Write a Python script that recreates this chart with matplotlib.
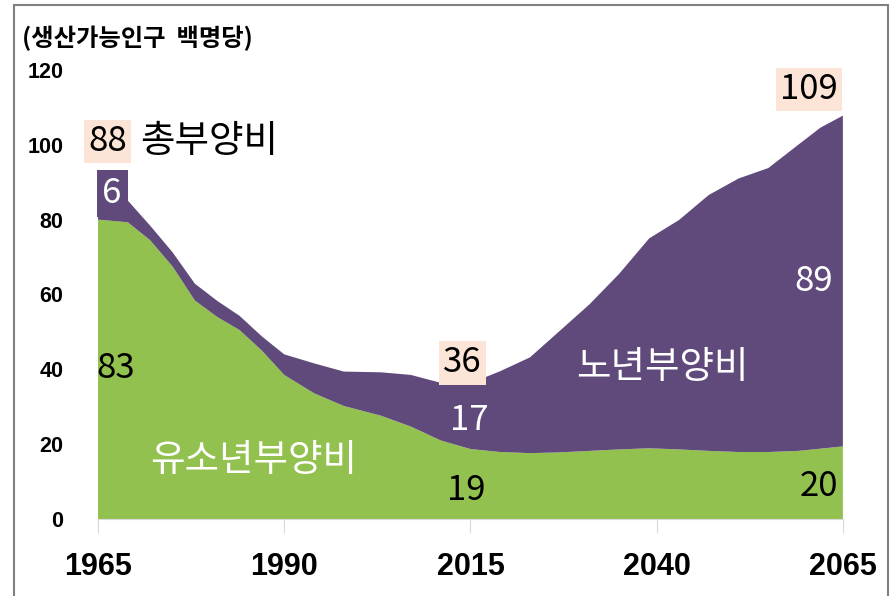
import matplotlib

matplotlib.use("Agg")
import matplotlib.pyplot as plt
from matplotlib.patches import Rectangle

years = [1965, 1969, 1972, 1975, 1978, 1981, 1984, 1987, 1990, 1994, 1998,
         2003, 2007, 2011, 2015, 2019, 2023, 2027, 2031, 2035, 2039, 2043,
         2047, 2051, 2055, 2059, 2062, 2065]
youth = [80.0, 79.3, 74.5, 67.5, 58.4, 54.0, 50.5, 45.0, 38.5, 33.6, 30.2,
         27.6, 24.7, 21.0, 18.7, 17.9, 17.6, 17.8, 18.2, 18.6, 18.9, 18.6,
         18.2, 17.9, 17.9, 18.2, 18.8, 19.4]
old = [8.0, 5.8, 3.9, 3.8, 4.5, 4.3, 3.8, 3.8, 5.5, 8.0, 9.2,
       11.6, 13.8, 15.4, 17.6, 21.6, 25.6, 32.5, 39.2, 47.0, 56.1, 61.3,
       68.4, 73.1, 75.9, 81.8, 85.8, 88.4]

xticks = [1965, 1990, 2015, 2040, 2065]
yticks = [0, 20, 40, 60, 80, 100, 120]

GREEN = "#92C150"
PURPLE = "#604A7B"
PEACH = "#FCE4D6"
KR = ["Noto Sans CJK KR", "DejaVu Sans"]
NUM = ["Liberation Sans", "DejaVu Sans"]

fig = plt.figure(figsize=(8.91, 5.96), dpi=100)
ax = fig.add_axes([0.110, 0.1292, 0.836, 0.7534])

ax.stackplot(years, youth, old, colors=[GREEN, PURPLE], linewidth=0)
ax.set_xlim(1965, 2065)
ax.set_ylim(0, 120)

for s in ("top", "right", "left"):
    ax.spines[s].set_visible(False)
ax.spines["bottom"].set_color("#d9d9d9")

ax.set_xticks(xticks)
ax.set_yticks(yticks)
ax.tick_params(axis="x", length=10, color="#d9d9d9", pad=14)
ax.tick_params(axis="y", length=0, pad=25)
for lab in ax.get_xticklabels():
    lab.set_family(NUM)
    lab.set_fontsize(22)
    lab.set_fontweight("bold")
for lab in ax.get_yticklabels():
    lab.set_family(NUM)
    lab.set_fontsize(15.5)
    lab.set_fontweight("bold")

# unit label
fig.text(22 / 891, 1 - 38 / 596, "(생산가능인구  백명당)", family=KR,
         fontsize=17.5, fontweight="bold", ha="left", va="center")

def box(x, y, txt, fc, color="black"):
    ax.text(x, y, txt, family=KR, fontsize=25, fontweight="medium", color=color,
            ha="center", va="center",
            bbox=dict(boxstyle="square,pad=0.12", fc=fc, ec="none"))

def label(x, y, txt, color="black", size=25):
    ax.text(x, y, txt, family=KR, fontsize=size, fontweight="medium", color=color,
            ha="center", va="center")

box(1966.3, 100.8, "88", PEACH)
box(2013.9, 41.7, "36", PEACH)
box(2060.4, 114.8, "109", PEACH)
ax.text(1966.9, 86.9, "6", family=KR, fontsize=25, fontweight="medium", color="white",
        ha="center", va="center",
        bbox=dict(boxstyle="square,pad=0.17", fc=PURPLE, ec="none"))

label(1979.9, 101, "총부양비", size=27)
label(1985.9, 15.7, "유소년부양비", color="white", size=27)
label(2040.8, 40.5, "노년부양비", color="white", size=27)

label(1967.4, 40.3, "83")
label(2014.8, 26.4, "17", color="white")
label(2014.5, 7.5, "19")
label(2061.1, 63.5, "89", color="white")
label(2061.8, 8.8, "20")

# outer frame
fig.patches.append(Rectangle((14 / 891, -0.02), (888 - 14) / 891, 1.02 - 5 / 596,
                             transform=fig.transFigure, fill=False,
                             ec="#808080", lw=1.5))

fig.savefig("out.png", dpi=100)
